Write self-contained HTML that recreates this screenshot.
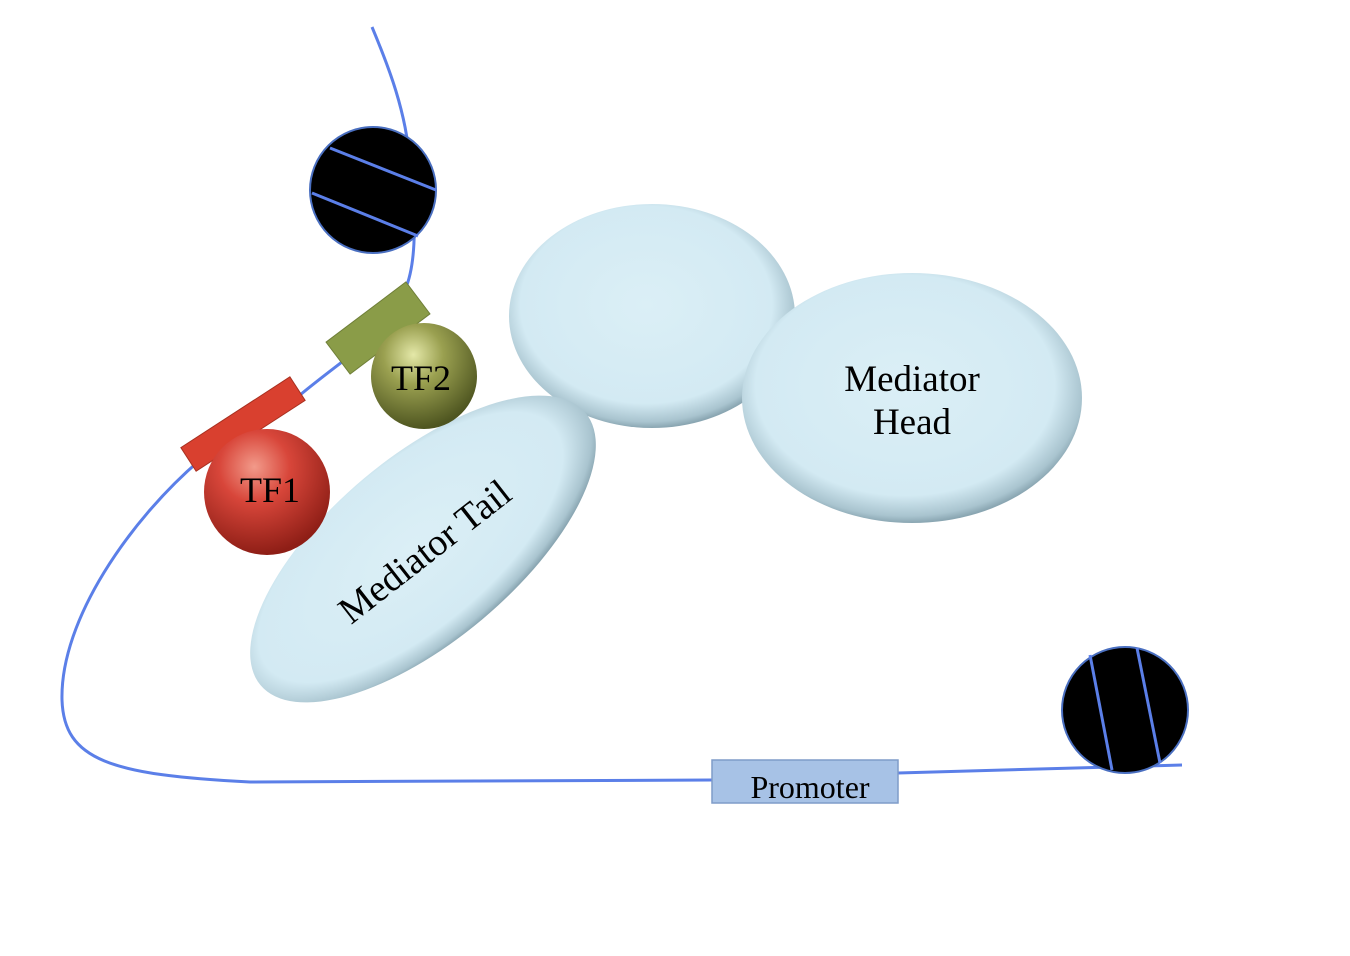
<!DOCTYPE html>
<html><head><meta charset="utf-8"><style>html,body{margin:0;padding:0;background:#fff}svg{display:block}</style></head>
<body>
<svg width="1350" height="956" viewBox="0 0 1350 956" xmlns="http://www.w3.org/2000/svg" font-family="'Liberation Serif', serif">
<defs>
<radialGradient id="blue" cx="48%" cy="45%" r="55%">
<stop offset="0" stop-color="#dbeff6"/><stop offset="0.8" stop-color="#d3eaf3"/><stop offset="0.95" stop-color="#a9c4cf"/><stop offset="1" stop-color="#8aa6b2"/>
</radialGradient>
<radialGradient id="red" cx="40%" cy="30%" r="70%">
<stop offset="0" stop-color="#f29a8a"/><stop offset="0.4" stop-color="#d8463a"/><stop offset="1" stop-color="#8e1e16"/>
</radialGradient>
<radialGradient id="olive" cx="40%" cy="30%" r="70%">
<stop offset="0" stop-color="#e4e8a8"/><stop offset="0.4" stop-color="#9aa050"/><stop offset="1" stop-color="#4e5520"/>
</radialGradient>
</defs>
<path d="M372,27 C390,70 405,110 410,160 C415,210 418,260 405,290 L380,330 C360,350 330,370 300,395 L200,460 C130,520 60,620 62,700 C64,760 110,775 250,782 L712,780" fill="none" stroke="#5b7fe8" stroke-width="3"/>
<path d="M898,773 L1182,765" fill="none" stroke="#5b7fe8" stroke-width="3"/>
<circle cx="373" cy="190" r="63" fill="#000" stroke="#4a6fc0" stroke-width="2"/>
<line x1="330" y1="148" x2="436" y2="190" stroke="#5b7fe8" stroke-width="3"/>
<line x1="312" y1="193" x2="418" y2="236" stroke="#5b7fe8" stroke-width="3"/>
<circle cx="1125" cy="710" r="63" fill="#000" stroke="#4a6fc0" stroke-width="2"/>
<line x1="1090" y1="655" x2="1112" y2="770" stroke="#5b7fe8" stroke-width="3"/>
<line x1="1137" y1="648" x2="1160" y2="763" stroke="#5b7fe8" stroke-width="3"/>
<rect x="-50" y="-20" width="100" height="40" fill="#8a9c48" stroke="#6f7f38" transform="translate(378,328) rotate(-37)"/>
<rect x="-65" y="-14" width="130" height="28" fill="#d9402f" stroke="#a83020" transform="translate(243,424) rotate(-33)"/>
<ellipse cx="652" cy="316" rx="143" ry="112" fill="url(#blue)"/>
<ellipse cx="912" cy="398" rx="170" ry="125" fill="url(#blue)"/>
<ellipse cx="0" cy="0" rx="212" ry="92" fill="url(#blue)" transform="translate(423,549) rotate(-40)"/>
<circle cx="424" cy="376" r="53" fill="url(#olive)"/>
<circle cx="267" cy="492" r="63" fill="url(#red)"/>
<text x="421" y="390" font-size="36" text-anchor="middle">TF2</text>
<text x="270" y="502" font-size="36" text-anchor="middle">TF1</text>
<text x="912" y="391" font-size="37" text-anchor="middle">Mediator</text>
<text x="912" y="434" font-size="37" text-anchor="middle">Head</text>
<text x="0" y="12" font-size="38" text-anchor="middle" transform="translate(425,552) rotate(-38)">Mediator Tail</text>
<rect x="712" y="760" width="186" height="43" fill="#a7c2e6" stroke="#7f9cc8" stroke-width="1.5"/>
<text x="810" y="798" font-size="32" text-anchor="middle">Promoter</text>
</svg>
</body></html>
